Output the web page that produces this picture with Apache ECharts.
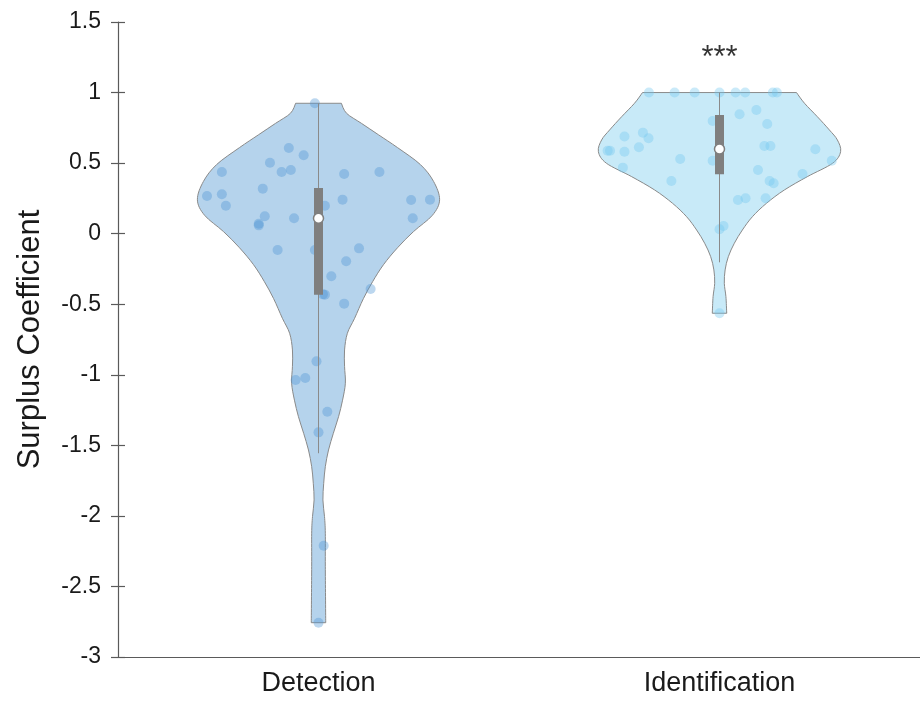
<!DOCTYPE html>
<html><head><meta charset="utf-8">
<script src="https://cdn.jsdelivr.net/npm/echarts@6/dist/echarts.min.js"></script>
<style>html,body{margin:0;padding:0;background:#fff}#c{width:920px;height:702px}</style>
</head><body><div id="c"></div>
<script>
// ---- data ----
const categories = ['Detection', 'Identification'];
const yTicks = [-3, 1.5, 0.5]; // min, max, interval
const significance = ['', '***'];
const significanceLevel = 1.24;

// violin outline: y values and half-width (x-axis units)
const detectionProfileY = [0.924, 0.853, 0.782, 0.70, 0.61, 0.49, 0.37, 0.24, 0.13, 0.015, -0.10, -0.22, -0.34, -0.46, -0.60, -0.706, -0.824, -0.94, -1.06, -1.18, -1.297, -1.415, -1.533, -1.651, -1.769, -1.887, -2.005, -2.123, -2.36, -2.757];
const detectionProfileW = [0.057, 0.070, 0.107, 0.150, 0.197, 0.254, 0.287, 0.302, 0.284, 0.237, 0.197, 0.162, 0.135, 0.112, 0.090, 0.072, 0.065, 0.065, 0.067, 0.060, 0.050, 0.037, 0.025, 0.017, 0.013, 0.011, 0.015, 0.017, 0.017, 0.018];
const identProfileY = [1.0, 0.924, 0.829, 0.735, 0.664, 0.581, 0.499, 0.404, 0.31, 0.215, 0.12, 0.026, -0.068, -0.163, -0.257, -0.352, -0.446, -0.564];
const identProfileW = [0.192, 0.212, 0.244, 0.274, 0.294, 0.302, 0.282, 0.219, 0.162, 0.117, 0.082, 0.057, 0.037, 0.022, 0.014, 0.012, 0.016, 0.018];

// individual observations and their horizontal jitter (x-axis units)
const detectionValues = [0.924, 0.607, 0.556, 0.503, 0.437, 0.437, 0.451, 0.423, 0.437, 0.319, 0.267, 0.279, 0.198, 0.198, 0.241, 0.239, 0.241, 0.109, 0.123, 0.109, 0.059, 0.07, -0.116, -0.116, -0.104, -0.196, -0.302, -0.392, -0.432, -0.43, -0.496, -0.905, -1.037, -1.023, -1.262, -1.408, -2.211, -2.757];
const detectionJitter = [-0.009, -0.074, -0.037, -0.121, -0.241, -0.092, -0.069, 0.064, 0.152, -0.139, -0.278, -0.241, -0.231, 0.016, 0.060, 0.231, 0.278, 0.235, -0.134, -0.061, -0.149, -0.149, -0.102, -0.009, 0.101, 0.069, 0.032, 0.130, 0.016, 0.011, 0.064, -0.005, -0.057, -0.033, 0.022, 0.0, 0.013, 0.0];
const identValues = [1.0, 1.0, 1.0, 1.0, 1.0, 1.0, 1.0, 1.0, 0.846, 0.877, 0.799, 0.777, 0.688, 0.716, 0.676, 0.612, 0.588, 0.588, 0.581, 0.621, 0.621, 0.598, 0.517, 0.529, 0.517, 0.468, 0.451, 0.423, 0.373, 0.373, 0.357, 0.239, 0.251, 0.251, 0.031, 0.054, -0.564];
const identJitter = [-0.176, -0.112, -0.062, 0.0, 0.040, 0.064, 0.133, 0.143, 0.050, 0.092, -0.017, 0.119, -0.237, -0.191, -0.177, -0.201, -0.279, -0.273, -0.237, 0.112, 0.127, 0.239, 0.280, -0.098, -0.017, -0.241, 0.096, 0.207, -0.120, 0.125, 0.135, 0.046, 0.065, 0.115, 0.0, 0.010, 0.0];

// box stats: [lower whisker, q1, median, q3, upper whisker]
const detectionBox = [-1.556, -0.432, 0.109, 0.324, 0.924];
const identBox = [-0.203, 0.421, 0.600, 0.841, 1.0];

// ---- chart ----
const profiles = [
  {y: detectionProfileY, w: detectionProfileW},
  {y: identProfileY, w: identProfileW}
];
const boxes = [detectionBox, identBox];
const fills = ['#b5d3ec', '#c8eaf8'];
const dotColors = ['rgba(78,148,212,0.47)', 'rgba(115,200,240,0.47)'];
const FONT = '"Liberation Sans", Arial, Helvetica, sans-serif';

const chart = echarts.init(document.getElementById('c'), null, {renderer: 'canvas'});

// Catmull-Rom spline through pixel points -> SVG cubic segments
function splineSegs(pts) {
  let d = '';
  const n = pts.length;
  for (let i = 0; i < n - 1; i++) {
    const p0 = pts[Math.max(i - 1, 0)], p1 = pts[i], p2 = pts[i + 1], p3 = pts[Math.min(i + 2, n - 1)];
    const c1 = [p1[0] + (p2[0] - p0[0]) / 6, p1[1] + (p2[1] - p0[1]) / 6];
    const c2 = [p2[0] - (p3[0] - p1[0]) / 6, p2[1] - (p3[1] - p1[1]) / 6];
    d += ' C' + c1[0].toFixed(2) + ',' + c1[1].toFixed(2) + ' ' + c2[0].toFixed(2) + ',' + c2[1].toFixed(2) + ' ' + p2[0].toFixed(2) + ',' + p2[1].toFixed(2);
  }
  return d;
}

function violinItem(params, api) {
  const i = params.dataIndex;
  const p = profiles[i];
  const right = p.y.map((y, k) => api.coord([i + p.w[k], y]));
  const left = p.y.map((y, k) => api.coord([i - p.w[k], y])).reverse();
  let d = 'M' + right[0][0].toFixed(2) + ',' + right[0][1].toFixed(2);
  d += splineSegs(right);
  d += ' L' + left[0][0].toFixed(2) + ',' + left[0][1].toFixed(2);
  d += splineSegs(left);
  d += ' Z';
  return {
    type: 'path',
    shape: {pathData: d},
    style: {fill: fills[i], stroke: '#8a8a8a', lineWidth: 1}
  };
}

function boxItem(params, api) {
  const i = params.dataIndex;
  const b = boxes[i];
  const lo = api.coord([i, b[0]]);
  const q1 = api.coord([i, b[1]]);
  const med = api.coord([i, b[2]]);
  const q3 = api.coord([i, b[3]]);
  const hi = api.coord([i, b[4]]);
  const bw = 9;
  return {
    type: 'group',
    children: [
      {type: 'line', shape: {x1: lo[0], y1: lo[1], x2: hi[0], y2: hi[1]}, style: {stroke: '#8a8a8a', lineWidth: 1}},
      {type: 'rect', shape: {x: q3[0] - bw / 2, y: q3[1], width: bw, height: q1[1] - q3[1]}, style: {fill: '#7f7f7f'}},
      {type: 'circle', shape: {cx: med[0], cy: med[1], r: 5}, style: {fill: '#ffffff', stroke: '#7f7f7f', lineWidth: 1.5}}
    ]
  };
}

const axisLineStyle = {color: '#5a5a5a', width: 1.2};

chart.setOption({
  animation: false,
  backgroundColor: '#ffffff',
  grid: {left: 118, right: 0, top: 22, bottom: 45, containLabel: false},
  xAxis: [
    {type: 'category', data: categories, boundaryGap: true,
     axisLine: {onZero: false, lineStyle: axisLineStyle},
     axisTick: {alignWithLabel: true, length: 7, lineStyle: axisLineStyle},
     axisLabel: {color: '#1a1a1a', fontSize: 27, fontFamily: FONT, margin: 13},
     splitLine: {show: false}},
    {type: 'value', min: -0.5, max: 1.5, show: false, axisLine: {onZero: false}, splitLine: {show: false}},
    {type: 'category', data: categories, boundaryGap: true, position: 'bottom',
     axisLine: {show: false, onZero: false}, axisLabel: {show: false},
     axisTick: {alignWithLabel: true, inside: true, length: 7, lineStyle: axisLineStyle}}
  ],
  yAxis: [
    {type: 'value', min: yTicks[0], max: yTicks[1], interval: yTicks[2],
     name: 'Surplus Coefficient', nameLocation: 'middle', nameGap: 72,
     nameTextStyle: {color: '#1a1a1a', fontSize: 31, fontFamily: FONT},
     axisLine: {show: true, onZero: false, lineStyle: axisLineStyle},
     axisTick: {show: true, length: 7, lineStyle: axisLineStyle},
     axisLabel: {color: '#1a1a1a', fontSize: 23, fontFamily: FONT, margin: 17},
     splitLine: {show: false}},
    {type: 'value', min: yTicks[0], max: yTicks[1], interval: yTicks[2], position: 'left',
     axisLine: {show: false, onZero: false}, axisLabel: {show: false}, splitLine: {show: false},
     axisTick: {show: true, inside: true, length: 7, lineStyle: axisLineStyle}}
  ],
  series: [
    {type: 'custom', xAxisIndex: 1, yAxisIndex: 0, renderItem: violinItem, data: [[0, 0], [1, 0]], z: 1, silent: true},
    {type: 'scatter', xAxisIndex: 1, yAxisIndex: 0, symbolSize: 10, z: 2,
     itemStyle: {color: dotColors[0]},
     data: detectionValues.map((v, k) => [0 + detectionJitter[k], v])},
    {type: 'scatter', xAxisIndex: 1, yAxisIndex: 0, symbolSize: 10, z: 2,
     itemStyle: {color: dotColors[1]},
     data: identValues.map((v, k) => [1 + identJitter[k], v])},
    {type: 'custom', xAxisIndex: 1, yAxisIndex: 0, renderItem: boxItem, data: [[0, 0], [1, 0]], z: 3, silent: true},
    {type: 'scatter', xAxisIndex: 1, yAxisIndex: 0, symbolSize: 0, z: 4, silent: true,
     data: significance.map((s, k) => ({value: [k, significanceLevel], name: s})),
     label: {show: true, position: 'inside', formatter: p => p.name, color: '#000', fontSize: 31, fontFamily: FONT}}
  ]
});
</script></body></html>
